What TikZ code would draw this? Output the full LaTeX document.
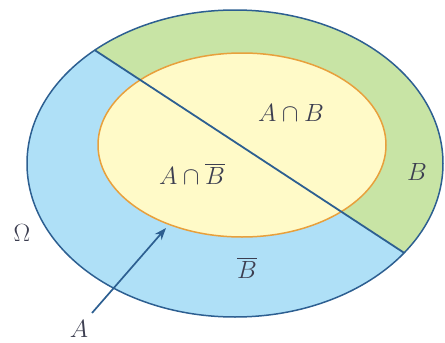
\documentclass[tikz,border=0pt]{standalone}
\usepackage{amsmath,amssymb}
\usepackage{xcolor}
\usepackage{tikz}
\usetikzlibrary{arrows.meta, calc}
\definecolor{omegablue}{RGB}{45, 95, 145}
\definecolor{skyfill}{RGB}{175, 224, 247}
\definecolor{greenfill}{RGB}{200, 228, 165}
\definecolor{yellowfill}{RGB}{255, 250, 200}
\definecolor{orangeline}{RGB}{232, 160, 60}
\definecolor{labelgray}{RGB}{60, 62, 80}

\begin{document}
\begin{tikzpicture}[
        x=1pt, y=-1pt,
        setlabel/.style={inner sep=0pt, text=labelgray, font=\fontsize{23}{27}\selectfont},
        arrow/.style={-{Stealth[length=12pt, width=9pt]}, line width=1.7pt, color=omegablue}
    ]
        \useasboundingbox (0,0) rectangle (445,343);

        % Regions
        \fill[skyfill] (235,163.5) ellipse [x radius=208, y radius=153.5];
        \begin{scope}
            \clip (235,163.5) ellipse [x radius=208, y radius=153.5];
            \fill[greenfill] (0,-11.3) -- (445,279) -- (445,-20) -- (0,-20) -- cycle;
        \end{scope}
        \fill[yellowfill] (242,145) ellipse [x radius=144, y radius=92];

        % Outlines
        \coordinate (cutA) at ($(235,163.5)+(227.6:208 and 153.5)$);
        \coordinate (cutB) at ($(235,163.5)+(35.6:208 and 153.5)$);
        \draw[orangeline, line width=1.5pt] (242,145) ellipse [x radius=144, y radius=92];
        \draw[omegablue, line width=1.8pt] (cutA) -- (cutB);
        \draw[omegablue, line width=1.5pt] (235,163.5) ellipse [x radius=208, y radius=153.5];

        % Labels
        \node[setlabel] (ab) at (291, 113) {$A \cap B$};
        \node[setlabel] (abbar) at (192, 174) {$A \cap \overline{B}$};
        \node[setlabel] (b) at (417, 172) {$B$};
        \node[setlabel] (bbar) at (247, 268) {$\overline{B}$};
        \node[setlabel] (omega) at (22, 233) {$\Omega$};
        \node[setlabel] (a) at (79, 329) {$A$};

        % Pointer
        \coordinate (astart) at (92, 313);
        \coordinate (atip) at (166, 228);
        \draw[arrow] (astart) -- (atip);
    \end{tikzpicture}
\end{document}
